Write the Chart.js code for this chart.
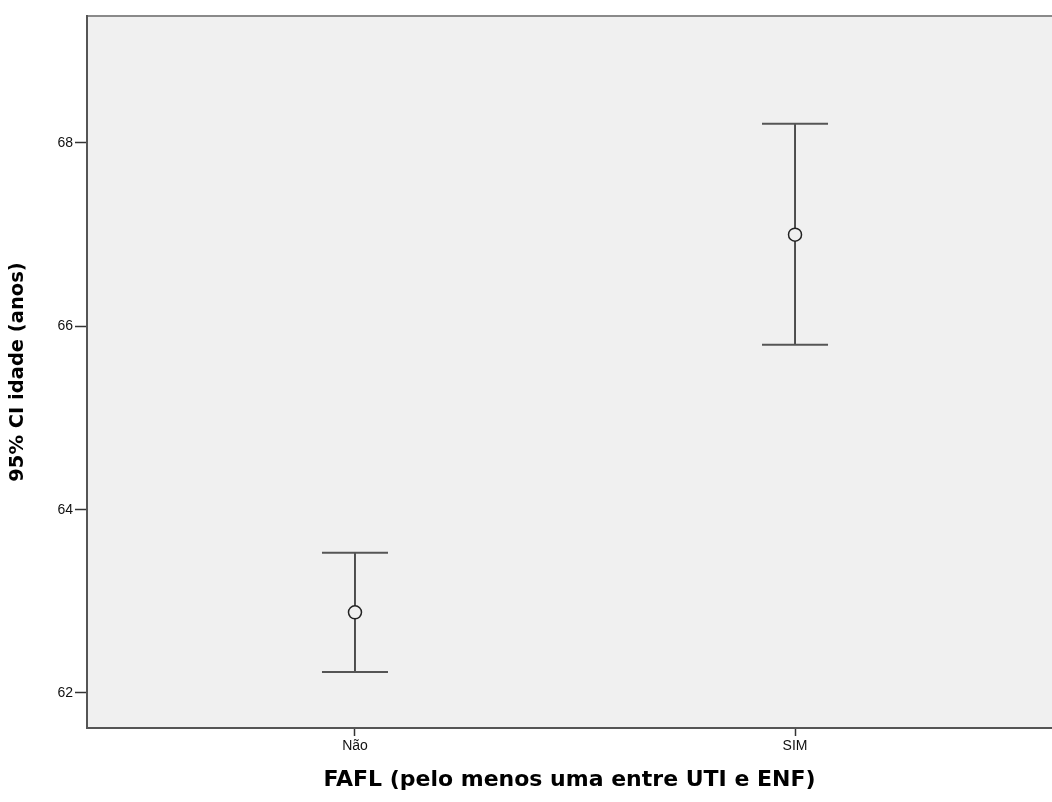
<!DOCTYPE html>
<html>
<head>
<meta charset="utf-8">
<script src="https://cdn.jsdelivr.net/npm/chart.js@4/dist/chart.umd.min.js"></script>
<style>
    html, body { margin: 0; padding: 0; background: #ffffff; overflow: hidden; }
    #frame { width: 1052px; height: 802px; overflow: hidden; }
    #wrap { width: 1060px; height: 802px; position: relative; }
</style>
</head>
<body>
<div id="frame"><div id="wrap"><canvas id="ciChart"></canvas></div></div>
<script>
// Categories and 95% CI values (idade, anos)
const categories = ['Não', 'SIM'];
const categoryPos = [1, 2];
const meanValues = [62.88, 67.00];
const lowerValues = [62.23, 65.80];
const upperValues = [63.53, 68.21];
const yTicks = [62, 64, 66, 68];

const plotBg = '#f0f0f0';
const capHalf = 0.075; // in x-axis units

/**
 * Plot background and top frame line
 */
const plotFrame = {
    id: 'plotFrame',
    beforeDraw(chart) {
        const { ctx, chartArea: a } = chart;
        ctx.save();
        ctx.fillStyle = plotBg;
        ctx.fillRect(a.left, a.top, a.right - a.left, a.bottom - a.top);
        ctx.strokeStyle = '#8a8a8a';
        ctx.lineWidth = 2;
        ctx.beginPath();
        ctx.moveTo(a.left, a.top);
        ctx.lineTo(a.right, a.top);
        ctx.stroke();
        ctx.restore();
    }
};

/**
 * Error bars (whisker + caps) from the CI arrays
 */
const errorBars = {
    id: 'errorBars',
    beforeDatasetsDraw(chart) {
        const { ctx, scales: { x, y } } = chart;
        ctx.save();
        categoryPos.forEach((pos, i) => {
            const px = x.getPixelForValue(pos);
            const left = x.getPixelForValue(pos - capHalf);
            const right = x.getPixelForValue(pos + capHalf);
            const top = y.getPixelForValue(upperValues[i]);
            const bottom = y.getPixelForValue(lowerValues[i]);

            ctx.strokeStyle = '#1a1a1a';
            ctx.lineWidth = 1.5;
            ctx.beginPath();
            ctx.moveTo(px, top);
            ctx.lineTo(px, bottom);
            ctx.stroke();

            ctx.strokeStyle = '#555555';
            ctx.lineWidth = 2;
            ctx.beginPath();
            ctx.moveTo(left, top);
            ctx.lineTo(right, top);
            ctx.moveTo(left, bottom);
            ctx.lineTo(right, bottom);
            ctx.stroke();
        });
        ctx.restore();
    }
};

const ctx = document.getElementById('ciChart');

new Chart(ctx, {
    type: 'scatter',
    data: {
        datasets: [
            {
                label: 'Média',
                data: categoryPos.map((pos, i) => ({ x: pos, y: meanValues[i] })),
                pointStyle: 'circle',
                pointRadius: 6.5,
                pointBorderWidth: 1.5,
                pointBorderColor: '#222222',
                pointBackgroundColor: plotBg
            }
        ]
    },
    options: {
        responsive: true,
        maintainAspectRatio: false,
        animation: false,
        layout: {
            padding: { top: 16, right: 0, left: 0, bottom: 0 }
        },
        plugins: {
            legend: { display: false },
            tooltip: { enabled: false },
            title: { display: false }
        },
        scales: {
            x: {
                type: 'linear',
                min: 0.391,
                max: 2.584,
                afterBuildTicks: axis => {
                    axis.ticks = categoryPos.map(v => ({ value: v }));
                },
                afterFit: axis => { axis.height = 74; },
                ticks: {
                    callback: value => categories[categoryPos.indexOf(value)] || '',
                    color: '#111111',
                    padding: 2,
                    font: { family: 'Arial, "Liberation Sans", sans-serif', size: 14 }
                },
                grid: {
                    drawOnChartArea: false,
                    drawTicks: true,
                    tickLength: 8,
                    tickWidth: 1.5,
                    tickColor: '#333333'
                },
                border: { display: true, color: '#555555', width: 2 },
                title: {
                    display: true,
                    text: 'FAFL (pelo menos uma entre UTI e ENF)',
                    color: '#000000',
                    padding: { top: 4, bottom: 9 },
                    font: { family: '"DejaVu Sans", sans-serif', size: 22, weight: 'bold' }
                }
            },
            y: {
                type: 'linear',
                min: 61.618,
                max: 69.385,
                afterBuildTicks: axis => {
                    axis.ticks = yTicks.map(v => ({ value: v }));
                },
                afterFit: axis => { axis.width = 87; },
                ticks: {
                    color: '#111111',
                    padding: 2,
                    font: { family: 'Arial, "Liberation Sans", sans-serif', size: 14 }
                },
                grid: {
                    drawOnChartArea: false,
                    drawTicks: true,
                    tickLength: 12,
                    tickWidth: 1.5,
                    tickColor: '#333333'
                },
                border: { display: true, color: '#555555', width: 2 },
                title: {
                    display: true,
                    text: '95% CI idade (anos)',
                    color: '#000000',
                    padding: { top: 6, bottom: 0 },
                    font: { family: '"DejaVu Sans", sans-serif', size: 19.5, weight: 'bold' }
                }
            }
        }
    },
    plugins: [plotFrame, errorBars]
});
</script>
</body>
</html>
